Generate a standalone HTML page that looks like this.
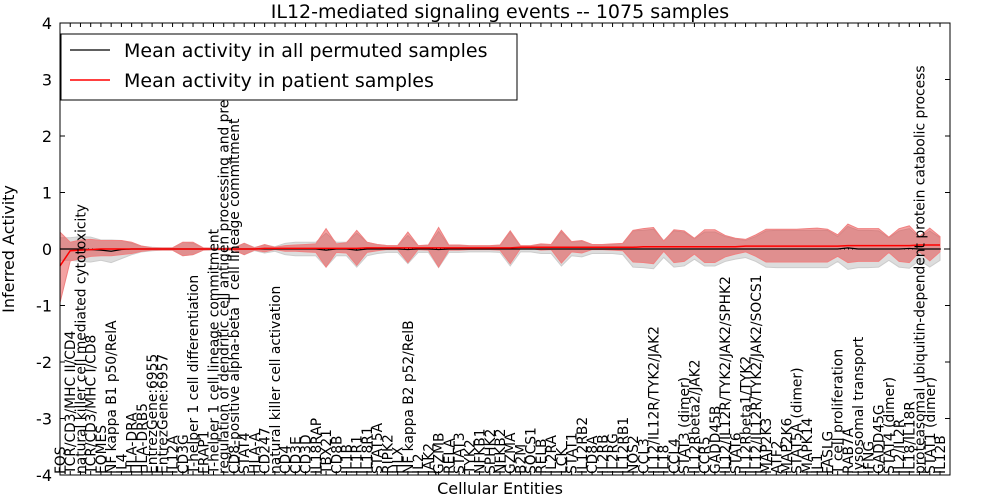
<!DOCTYPE html>
<html><head><meta charset="utf-8"><style>
body{margin:0;background:#fff;}
svg{display:block;font-family:"DejaVu Sans","Liberation Sans",sans-serif;}
</style></head><body>
<svg id="chart" width="1000" height="500" viewBox="0 0 1000 500">
<rect x="0" y="0" width="1000" height="500" fill="#fff"/>
<g id="plot"></g>
</svg>
<script>
const categories=["FOS","TCR/CD3/MHC II/CD4","natural killer cell mediated cytotoxicity","TCR/CD3/MHC I/CD8","EOMES","NF kappa B1 p50/RelA","IL4","HLA-DRA","HLA-DRB5","EntrezGene:6955","EntrezGene:6957","IL12A","CD3G","T-helper 1 cell differentiation","FRAP1","T-helper 1 cell lineage commitment","regulation of dendritic cell antigen processing and presentation","CD8-positive alpha-beta T cell lineage commitment","STAT4","HLA-A","CD247","natural killer cell activation","CD4","CD3E","CD3D","IL18RAP","TBX21","CD8B","IL1B","IL1R1","IL18R1","STAT5A","RIPK2","HLX","NF kappa B2 p52/RelB","IL2","JAK2","GZMB","RELA","STAT3","TYK2","NFKB1","SPHK2","NFKB2","GZMA","B2M","SOCS1","RELB","IL2RA","LCK","STAT1","IL12RB2","CD8A","IL2RB","IL2RG","IL12RB1","NOS2","CCL3","IL12/IL12R/TYK2/JAK2","IL18","CCL4","STAT3 (dimer)","IL12Rbeta2/JAK2","CCR5","GADD45B","IL12/IL12R/TYK2/JAK2/SPHK2","STAT6","IL12Rbeta1/TYK2","IL12/IL12R/TYK2/JAK2/SOCS1","MAP2K3","ATF2","MAP2K6","STAT5A (dimer)","MAPK14","IL1","FASLG","T cell proliferation","RAB7A","lysosomal transport","IFNG","GADD45G","STAT4 (dimer)","IL2/IL2R","IL18/IL18R","proteasomal ubiquitin-dependent protein catabolic process","STAT1 (dimer)","IL12B"];
const patientMean=[-0.3,-0.03,-0.02,-0.01,0,0,0,0,0,0,0,0,0,0,0,0,0,0,0,0,0.01,0.01,0.01,0.01,0.01,0.01,0.01,0.01,0.01,0.01,0.02,0.02,0.02,0.02,0.02,0.02,0.02,0.02,0.02,0.02,0.02,0.02,0.02,0.02,0.02,0.03,0.03,0.03,0.03,0.03,0.03,0.03,0.03,0.03,0.03,0.03,0.03,0.04,0.04,0.04,0.04,0.04,0.04,0.04,0.04,0.04,0.04,0.05,0.05,0.05,0.05,0.05,0.05,0.05,0.05,0.05,0.05,0.06,0.06,0.06,0.06,0.06,0.06,0.06,0.07,0.07,0.07];
const patientUpper=[0.6,0.15,0.18,0.18,0.15,0.15,0.15,0.12,0.05,0.02,0.02,0.02,0.12,0.12,0.02,0.01,0.01,0.02,0.1,0.02,0.07,0.02,0.05,0.06,0.07,0.08,0.35,0.08,0.1,0.32,0.1,0.06,0.04,0.04,0.28,0.04,0.05,0.36,0.05,0.05,0.04,0.04,0.04,0.05,0.3,0.03,0.03,0.06,0.05,0.3,0.1,0.12,0.05,0.05,0.06,0.07,0.3,0.32,0.34,0.1,0.3,0.28,0.15,0.3,0.3,0.2,0.15,0.12,0.2,0.3,0.3,0.3,0.3,0.31,0.32,0.3,0.2,0.38,0.3,0.3,0.3,0.15,0.3,0.35,0.15,0.3,0.15];
const patientLower=[-0.65,-0.18,-0.15,-0.12,-0.12,-0.12,-0.1,-0.08,-0.04,-0.02,-0.02,-0.02,-0.12,-0.1,-0.02,-0.01,-0.01,-0.02,-0.1,-0.02,-0.06,-0.02,-0.05,-0.05,-0.06,-0.07,-0.33,-0.07,-0.08,-0.3,-0.08,-0.05,-0.03,-0.03,-0.26,-0.03,-0.04,-0.34,-0.04,-0.04,-0.03,-0.03,-0.03,-0.04,-0.28,-0.02,-0.02,-0.05,-0.04,-0.28,-0.08,-0.1,-0.04,-0.04,-0.05,-0.06,-0.26,-0.28,-0.3,-0.08,-0.28,-0.26,-0.13,-0.28,-0.28,-0.18,-0.13,-0.1,-0.18,-0.28,-0.28,-0.28,-0.28,-0.28,-0.28,-0.28,-0.18,-0.3,-0.28,-0.28,-0.28,-0.12,-0.28,-0.3,-0.12,-0.28,-0.12];
const permMean=[0,0,0,-0.01,-0.02,-0.04,-0.01,0,0,0,0,0,0,0,0,0,0,0,0,0,0,0,0,0,0,0,-0.02,0,0,-0.02,0,0,0,0,-0.01,0,0,-0.01,0,0,0,0,0,0,0,0,0,0,0,0,0,0,0,0,0,0,0,0,0,0,0,0,0,0,0,0,0,0,0,0,0,0,0,0,0,0,0,0.02,0,0,0,0,0,0.01,0,0,0];
const permHalf=[0.2,0.2,0.22,0.22,0.18,0.2,0.16,0.1,0.05,0.03,0.02,0.02,0.12,0.1,0.02,0.02,0.02,0.02,0.1,0.03,0.07,0.04,0.1,0.12,0.12,0.12,0.3,0.12,0.12,0.3,0.12,0.08,0.06,0.06,0.25,0.06,0.06,0.32,0.06,0.06,0.05,0.05,0.05,0.06,0.3,0.05,0.05,0.08,0.08,0.3,0.12,0.14,0.08,0.08,0.08,0.1,0.32,0.33,0.35,0.15,0.32,0.3,0.18,0.3,0.3,0.22,0.18,0.15,0.22,0.32,0.33,0.33,0.33,0.33,0.33,0.33,0.22,0.38,0.33,0.33,0.32,0.2,0.32,0.35,0.2,0.32,0.2];
const yTicks=[-4,-3,-2,-1,0,1,2,3,4];

const L=60,R=950,T=23,B=475;
const xs=i=>L+i*(940-L)/(categories.length-1);
const ys=v=>(T+B)/2 - v*(B-T)/8;
const NS="http://www.w3.org/2000/svg";
const g=document.getElementById('plot');
function mk(tag,attrs,parent){const e=document.createElementNS(NS,tag);for(const k in attrs)e.setAttribute(k,attrs[k]);(parent||g).appendChild(e);return e;}
function band(up,lo){let p=up.map((v,i)=>xs(i)+','+ys(v));for(let i=lo.length-1;i>=0;i--)p.push(xs(i)+','+ys(lo[i]));return p.join(' ');}
function line(arr){return arr.map((v,i)=>xs(i)+','+ys(v)).join(' ');}

let e=mk('polygon',{points:band(permMean.map((m,i)=>m+permHalf[i]),permMean.map((m,i)=>m-permHalf[i])),fill:'#bbb','fill-opacity':'0.5',stroke:'#ccc','stroke-width':'1'});


e=mk('polygon',{points:band(patientUpper.map((u,i)=>patientMean[i]+u),patientLower.map((l,i)=>patientMean[i]+l)),fill:'#e53030','fill-opacity':'0.45',stroke:'#f08080','stroke-width':'1'});


e=mk('line',{x1:L,x2:R,y1:ys(0),y2:ys(0),stroke:'#000','stroke-width':'1','stroke-dasharray':'1,3'});


e=mk('polyline',{points:line(permMean),fill:'none',stroke:'#000','stroke-width':'1.2'});


e=mk('polyline',{points:line(patientMean),fill:'none',stroke:'#f00','stroke-width':'1.5'});



categories.forEach((c,i)=>{
  const x=xs(i);
  const t=mk('text',{x:0,y:0,transform:`translate(${x+5},${B-1}) rotate(-90)`,'font-size':'13.8',fill:'#000'});
  t.textContent=c;
  
  
  mk('line',{x1:x,x2:x,y1:B,y2:B-4,stroke:'#000'});
  mk('line',{x1:x,x2:x,y1:T,y2:T+4,stroke:'#000'});
});
yTicks.forEach(v=>{
  const y=ys(v);
  mk('line',{x1:L,x2:L+5,y1:y,y2:y,stroke:'#000'});
  mk('line',{x1:R,x2:R-5,y1:y,y2:y,stroke:'#000'});
  const t=mk('text',{x:L-8,y:y+6,'text-anchor':'end','font-size':'16',fill:'#000'});
  t.textContent=v;
  
  
});
e=mk('rect',{x:L,y:T,width:R-L,height:B-T,fill:'none',stroke:'#000','stroke-width':'1'});



const lg=mk('g',{});


mk('rect',{x:61,y:34,width:456,height:66,fill:'#fff',stroke:'#000'},lg);
mk('line',{x1:70,x2:110,y1:50,y2:50,stroke:'#000','stroke-width':'1.2'},lg);
mk('line',{x1:70,x2:110,y1:80,y2:80,stroke:'#f00','stroke-width':'1.5'},lg);
let t=mk('text',{x:124,y:57,'font-size':'19'},lg);t.textContent='Mean activity in all permuted samples';


t=mk('text',{x:124,y:87,'font-size':'19'},lg);t.textContent='Mean activity in patient samples';



t=mk('text',{x:500,y:18,'text-anchor':'middle','font-size':'19'});t.textContent='IL12-mediated signaling events -- 1075 samples';


t=mk('text',{x:500,y:494,'text-anchor':'middle','font-size':'16'});t.textContent='Cellular Entities';


t=mk('text',{x:0,y:0,transform:'translate(14,249) rotate(-90)','text-anchor':'middle','font-size':'16'});t.textContent='Inferred Activity';


</script>
</body></html>
